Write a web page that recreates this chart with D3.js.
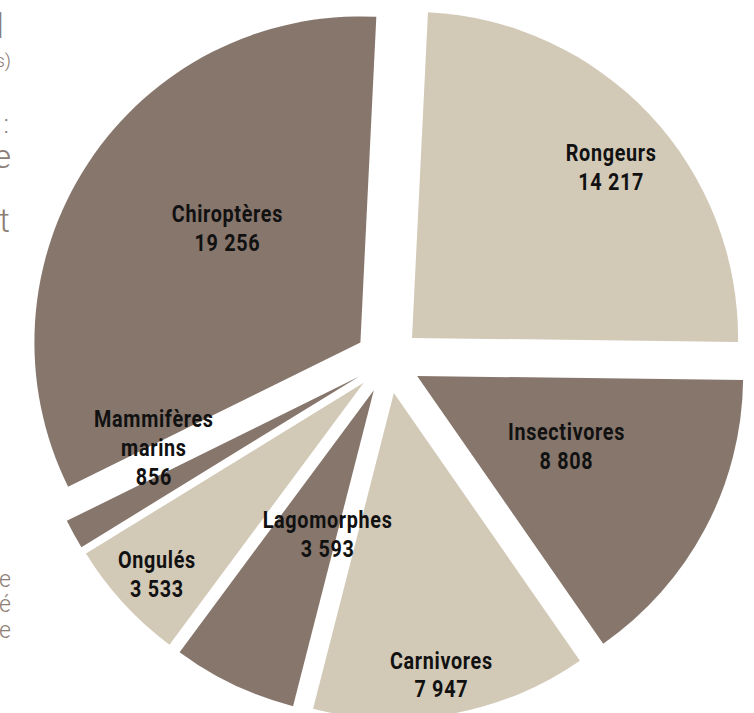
<!DOCTYPE html>
<html>
<head>
<meta charset="utf-8">
<script src="https://cdn.jsdelivr.net/npm/d3@7"></script>
<style>
  html, body { margin: 0; padding: 0; background: #fff; overflow: hidden; }
  svg { display: block; }
</style>
</head>
<body>
<svg id="canvas"></svg>
<script>
// species of mammals by order, exploded pie
let categories = ['Rongeurs', 'Insectivores', 'Carnivores', 'Lagomorphes', 'Ongulés', 'Mammifères marins', 'Chiroptères']
let values = [14217, 8808, 7947, 3593, 3533, 856, 19256]
let colors = ['#d2c9b7', '#87766c', '#d2c9b7', '#87766c', '#d2c9b7', '#87766c', '#87766c']

// label tweaks (distance from center, turn in degrees from slice middle)
let labelDist = [295, 198, 319, 184, 315, 250, 208]
let labelTurn = [2.4, -2.3, 0.6, -6.3, -0.3, 8.4, 6.2]

// clipped text of the neighbouring column
let sideTexts = ['1', 's)', ':', 'e', 't', 'e', 'é', 'e']
let sideSizes = [36, 19, 26, 34, 34, 23, 23, 23]
let sideY = [38, 67, 133, 168, 232, 587, 612, 638]
let sideX = [9, 11, 9, 11, 10, 11, 11, 11]

//dimensions
let width = 754
let height = 713
let cx = 388
let cy = 360.5
let radius = 326
let explode = 33
let lineGap = 29
let startDeg = 2.8

let canvas = d3.select('#canvas')
               .attr('width', width)
               .attr('height', height)

let fmt = d3.formatLocale({decimal: ',', thousands: ' ', grouping: [3], currency: ['', '']}).format(',d')

let data = categories.map((c, i) => {
    return {name: c, value: values[i], color: colors[i], dist: labelDist[i], turn: labelTurn[i]}
})

let start = startDeg * Math.PI / 180
let pie = d3.pie()
            .sort(null)
            .value((d) => d.value)
            .startAngle(start)
            .endAngle(start + 2 * Math.PI)

let arc = d3.arc()
            .innerRadius(0)
            .outerRadius(radius)

let slices = pie(data)

let g = canvas.append('g')
              .attr('transform', 'translate(' + cx + ',' + cy + ')')

g.selectAll('path')
    .data(slices)
    .enter()
    .append('path')
    .attr('d', arc)
    .attr('fill', (d) => d.data.color)
    .attr('transform', (d) => {
        let mid = (d.startAngle + d.endAngle) / 2
        return 'translate(' + (Math.sin(mid) * explode) + ',' + (-Math.cos(mid) * explode) + ')'
    })

// labels: condensed look by squeezing a bold face
let labels = g.selectAll('g.lbl')
    .data(slices)
    .enter()
    .append('g')
    .attr('class', 'lbl')
    .attr('transform', (d) => {
        let mid = (d.startAngle + d.endAngle) / 2 + d.data.turn * Math.PI / 180
        let x = Math.sin(mid) * d.data.dist
        let y = -Math.cos(mid) * d.data.dist
        return 'translate(' + x + ',' + y + ') scale(0.86,1)'
    })

labels.each(function (d) {
    let lines = d.data.name.split(' ')
    lines.push(fmt(d.data.value))
    let first = -(lines.length - 1) * lineGap / 2 + 8
    let t = d3.select(this).append('text')
        .attr('text-anchor', 'middle')
        .style('font-family', 'Roboto, "DejaVu Sans", sans-serif')
        .style('font-weight', 'bold')
        .style('font-size', '23px')
        .style('letter-spacing', '0.8px')
        .attr('fill', '#111')
    lines.forEach((ln, i) => {
        t.append('tspan')
         .attr('x', 0)
         .attr('y', first + i * lineGap)
         .text(ln)
    })
})

// side column fragments
canvas.selectAll('text.side')
    .data(sideTexts)
    .enter()
    .append('text')
    .attr('class', 'side')
    .attr('text-anchor', 'end')
    .attr('x', (d, i) => sideX[i])
    .attr('y', (d, i) => sideY[i])
    .style('font-family', 'Roboto, sans-serif')
    .style('font-weight', '300')
    .style('font-size', (d, i) => sideSizes[i] + 'px')
    .attr('fill', '#8b7d74')
    .text((d) => d)
</script>
</body>
</html>
